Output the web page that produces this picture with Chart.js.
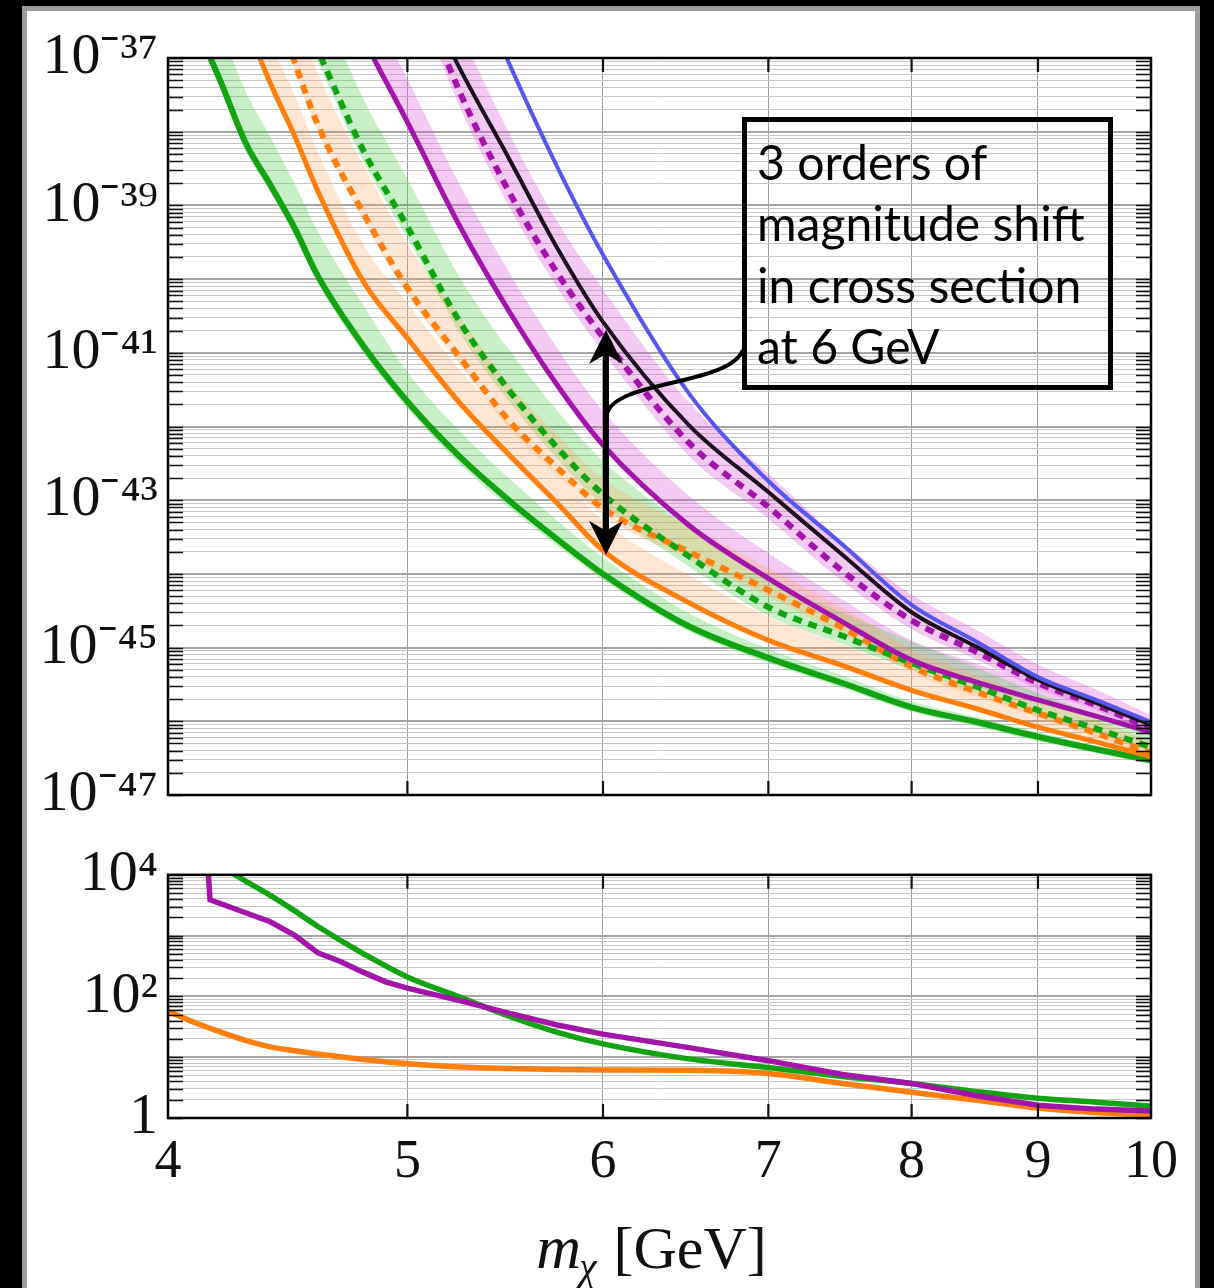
<!DOCTYPE html>
<html><head><meta charset="utf-8">
<script src="https://cdn.jsdelivr.net/npm/chart.js@4.4.1/dist/chart.umd.min.js"></script>
<style>
html,body{margin:0;padding:0;background:#000;width:1214px;height:1288px;overflow:hidden;}
#frame{position:absolute;left:22px;top:6px;width:1178px;height:1300px;box-sizing:border-box;border:5px solid #9c9c9c;background:#fff;}
#top{position:absolute;left:0;top:0;}
#bot{position:absolute;left:0;top:830px;}
</style></head><body>
<div id="frame"></div>
<canvas id="top" width="1214" height="850"></canvas>
<canvas id="bot" width="1214" height="458"></canvas>
<script>
// ---------- data (log10 of cross section) ----------
const topMass = [4.1,4.2,4.3,4.4,4.5,4.6,4.8,5.0,5.25,5.5,5.75,6.0,6.5,7.0,7.5,8.0,8.5,9.0,9.5,10];

const greenSolid   = [-36.51,-37.31,-38.15,-38.72,-39.30,-39.96,-40.91,-41.66,-42.41,-43.01,-43.53,-44.00,-44.71,-45.14,-45.48,-45.81,-46.01,-46.21,-46.38,-46.53];
const greenSolidHi = [-35.81,-36.61,-37.45,-38.07,-38.70,-39.36,-40.36,-41.26,-42.06,-42.71,-43.28,-43.78,-44.53,-45.02,-45.38,-45.73,-45.94,-46.15,-46.33,-46.48];
const greenSolidLo = [-36.61,-37.41,-38.25,-38.82,-39.40,-40.06,-41.01,-41.76,-42.51,-43.11,-43.62,-44.08,-44.78,-45.21,-45.55,-45.87,-46.07,-46.27,-46.43,-46.58];

const orangeSolid   = [null,null,-36.53,-37.34,-38.05,-38.81,-40.04,-40.80,-41.68,-42.39,-43.04,-43.68,-44.39,-44.90,-45.24,-45.58,-45.83,-46.08,-46.28,-46.48];
const orangeSolidHi = [null,null,-35.98,-36.79,-37.50,-38.28,-39.54,-40.33,-41.23,-41.96,-42.63,-43.28,-44.02,-44.58,-44.96,-45.33,-45.62,-45.90,-46.13,-46.36];
const orangeSolidLo = [null,null,-36.60,-37.41,-38.12,-38.88,-40.11,-40.87,-41.75,-42.46,-43.10,-43.74,-44.44,-44.95,-45.29,-45.62,-45.87,-46.11,-46.31,-46.51];

const orangeDashed   = [null,null,null,-36.14,-37.05,-37.91,-39.11,-40.12,-41.06,-41.93,-42.56,-43.11,-43.70,-44.22,-44.73,-45.26,-45.60,-45.89,-46.16,-46.43];
const orangeDashedHi = [null,null,null,-35.44,-36.35,-37.21,-38.46,-39.52,-40.51,-41.43,-42.11,-42.71,-43.35,-43.92,-44.46,-45.02,-45.38,-45.69,-45.98,-46.27];
const orangeDashedLo = [null,null,null,-36.24,-37.15,-38.01,-39.21,-40.22,-41.16,-42.03,-42.66,-43.21,-43.80,-44.31,-44.82,-45.34,-45.67,-45.95,-46.21,-46.48];

const greenDashed   = [null,null,null,null,-36.19,-36.90,-38.26,-39.29,-40.58,-41.52,-42.29,-42.92,-43.76,-44.45,-44.84,-45.21,-45.53,-45.85,-46.10,-46.35];
const greenDashedHi = [null,null,null,null,-35.44,-36.15,-37.56,-38.64,-39.98,-40.97,-41.79,-42.47,-43.36,-44.10,-44.52,-44.92,-45.27,-45.62,-45.90,-46.17];
const greenDashedLo = [null,null,null,null,-36.34,-37.05,-38.41,-39.44,-40.73,-41.67,-42.44,-43.07,-43.90,-44.57,-44.95,-45.31,-45.62,-45.92,-46.16,-46.41];

const magentaSolid   = [null,null,null,null,null,-35.36,-36.73,-37.87,-39.28,-40.45,-41.44,-42.25,-43.34,-44.06,-44.65,-45.17,-45.47,-45.71,-45.93,-46.15];
const magentaSolidHi = [null,null,null,null,null,-34.76,-36.13,-37.29,-38.72,-39.92,-40.94,-41.79,-42.94,-43.72,-44.35,-44.90,-45.22,-45.49,-45.74,-45.98];
const magentaSolidLo = [null,null,null,null,null,-35.41,-36.78,-37.92,-39.33,-40.50,-41.49,-42.30,-43.39,-44.11,-44.70,-45.22,-45.52,-45.76,-45.97,-46.19];

const magentaDashed   = [null,null,null,null,null,null,null,-35.67,-37.46,-38.83,-39.92,-40.79,-42.22,-43.09,-43.96,-44.63,-45.06,-45.48,-45.78,-46.10];
const magentaDashedHi = [null,null,null,null,null,null,null,-34.82,-36.61,-38.03,-39.22,-40.14,-41.67,-42.64,-43.56,-44.28,-44.76,-45.23,-45.57,-45.92];
const magentaDashedLo = [null,null,null,null,null,null,null,-35.87,-37.66,-39.03,-40.12,-40.99,-42.40,-43.25,-44.10,-44.75,-45.16,-45.56,-45.85,-46.15];

const blackLine = [null,null,null,null,null,null,null,-35.70,-37.14,-38.38,-39.58,-40.58,-41.98,-42.89,-43.74,-44.52,-44.99,-45.44,-45.75,-46.05];
const blueLine  = [null,null,null,null,null,null,null,null,-35.53,-37.09,-38.48,-39.67,-41.55,-42.74,-43.60,-44.42,-44.92,-45.40,-45.71,-46.01];

// bottom panel (log10 of ratio)
const botMagentaMass = [4.15,4.16,4.3,4.4,4.5,4.6,4.7,4.8,4.9,5.0,5.25,5.5,5.75,6.0,6.5,7.0,7.5,8.0,8.5,9.0,9.5,10];
const botMagenta     = [4.2,3.59,3.376,3.228,3.008,2.715,2.57,2.395,2.24,2.135,1.93,1.72,1.53,1.38,1.158,0.943,0.715,0.569,0.367,0.211,0.146,0.114];
const botGreenMass   = [4.2,4.3,4.4,4.5,4.6,4.8,5.0,5.25,5.5,5.75,6.0,6.5,7.0,7.5,8.0,8.5,9.0,9.5,10];
const botGreen       = [4.15,3.896,3.66,3.41,3.15,2.70,2.32,1.99,1.67,1.41,1.22,0.972,0.829,0.683,0.569,0.434,0.325,0.26,0.195];
const botOrangeMass  = [4.0,4.1,4.2,4.3,4.4,4.5,4.6,4.8,5.0,5.25,5.5,5.75,6.0,6.5,7.0,7.5,8.0,8.5,9.0,9.5,10];
const botOrange      = [1.756,1.57,1.415,1.276,1.17,1.106,1.054,0.963,0.894,0.84,0.813,0.797,0.789,0.784,0.732,0.569,0.423,0.293,0.163,0.089,0.049];

// axes / labels
const massTicks = [4,5,6,7,8,9,10];
const xTickLabels = ['4','5','6','7','8','9','10'];
const topLabelExps = [-37,-39,-41,-43,-45,-47];
const botLabelExps = [4,2,0];
const noteLines = ['3 orders of','magnitude shift','in cross section','at 6 GeV'];
const arrowMass = 6, arrowUpperExp = -40.69, arrowLowerExp = -43.74;

// ---------- helpers ----------
const SUP = {'-':'\u207B','0':'\u2070','1':'\u00B9','2':'\u00B2','3':'\u00B3','4':'\u2074','5':'\u2075','6':'\u2076','7':'\u2077','8':'\u2078','9':'\u2079'};
function powLabel(e){ return e===0 ? '1' : '10' + String(e).split('').map(c=>SUP[c]).join(''); }
function isDecade(v){ const l=Math.log10(v); return Math.abs(l-Math.round(l))<1e-6; }
function logTicks(eMin,eMax){ const t=[]; for(let e=eMin;e<eMax;e++){ for(let k=1;k<10;k++) t.push({value:k*Math.pow(10,e)}); } t.push({value:Math.pow(10,eMax)}); return t; }
function pts(ms, ls){ return ms.map((m,i)=>({x:m, y: ls[i]==null?null:Math.pow(10,ls[i])})); }

const C = {green:'#12a312', orange:'#ff7f0e', purple:'#a315a8', black:'#1c0f1e', blue:'#5656ee',
  gBand:'rgba(70,205,70,0.30)', oBand:'rgba(255,165,95,0.28)', mBand:'rgba(222,95,222,0.33)'};

function line(label, ms, ls, color, width, dash, order, straight){
  const d = {label, data: pts(ms, ls), borderColor: color, borderWidth: width, borderDash: dash||[], borderCapStyle:'butt',
    pointRadius:0, fill:false, order, clip:0};
  if (straight) d.tension = 0; else d.cubicInterpolationMode = 'monotone';
  return d;
}
function band(label, hi, lo, color){
  return [
    {label: label+' upper', data: pts(topMass, hi), borderWidth:0, borderColor:'rgba(0,0,0,0)', backgroundColor: color,
     fill:'+1', pointRadius:0, order:50, cubicInterpolationMode:'monotone', clip:0},
    {label: label+' lower', data: pts(topMass, lo), borderWidth:0, borderColor:'rgba(0,0,0,0)', backgroundColor:'rgba(0,0,0,0)',
     fill:false, pointRadius:0, order:50, cubicInterpolationMode:'monotone', clip:0}
  ];
}

const frameTicks = {
  id:'frameTicks',
  afterDraw(chart){
    const {ctx, chartArea:a, scales:{x,y}} = chart;
    ctx.save();
    ctx.strokeStyle='#111'; ctx.lineWidth=1.6;
    ctx.beginPath();
    y.ticks.forEach(t=>{
      const py = Math.round(y.getPixelForValue(t.value))+0.5;
      if (py < a.top-1 || py > a.bottom+1) return;
      ctx.moveTo(a.left, py); ctx.lineTo(a.left+15, py);
      ctx.moveTo(a.right, py); ctx.lineTo(a.right-15, py);
    });
    ctx.stroke();
    ctx.lineWidth=2.2; ctx.beginPath();
    x.ticks.forEach(t=>{
      const px = x.getPixelForValue(t.value);
      if (px < a.left+2 || px > a.right-2) return;
      ctx.moveTo(px, a.bottom); ctx.lineTo(px, a.bottom-14);
      ctx.moveTo(px, a.top); ctx.lineTo(px, a.top+14);
    });
    ctx.stroke();
    ctx.lineWidth=2.5; ctx.strokeStyle='#000';
    ctx.strokeRect(a.left, a.top, a.right-a.left, a.bottom-a.top);
    ctx.restore();
  }
};

const annotation = {
  id:'annotation',
  afterDraw(chart){
    const {ctx, scales:{x,y}} = chart;
    ctx.save();
    ctx.fillStyle='#000'; ctx.strokeStyle='#000';
    const ax = x.getPixelForValue(arrowMass) + 3;
    const y1 = y.getPixelForValue(Math.pow(10,arrowUpperExp));
    const y2 = y.getPixelForValue(Math.pow(10,arrowLowerExp));
    ctx.lineWidth=6; ctx.beginPath(); ctx.moveTo(ax, y1+22); ctx.lineTo(ax, y2-22); ctx.stroke();
    const head=(tip,dir)=>{ ctx.beginPath(); ctx.moveTo(ax,tip); ctx.lineTo(ax+17,tip+dir*34); ctx.lineTo(ax,tip+dir*24); ctx.lineTo(ax-17,tip+dir*34); ctx.closePath(); ctx.fill(); };
    head(y1,1); head(y2,-1);
    // connector to box
    ctx.lineWidth=4; ctx.beginPath(); ctx.moveTo(ax+1, 414); ctx.bezierCurveTo(ax+9, 380, 728, 386, 743, 350); ctx.stroke();
    // box
    ctx.lineWidth=5; ctx.strokeRect(744.5, 119.5, 366, 268);
    // text
    let fs = 48; ctx.font = fs+'px Lato';
    const w = ctx.measureText(noteLines[1]).width; fs = fs*328/w; ctx.font = fs.toFixed(1)+'px Lato';
    ctx.textBaseline='alphabetic'; ctx.textAlign='left';
    const base=[180,241,303,364];
    noteLines.forEach((s,i)=>ctx.fillText(s, 757, base[i]));
    ctx.restore();
  }
};

const axisTitle = {
  id:'axisTitle',
  afterDraw(chart){
    const ctx = chart.ctx; const a = chart.chartArea;
    ctx.save(); ctx.fillStyle='#111'; ctx.textBaseline='alphabetic'; ctx.textAlign='left';
    const fM='italic 62px "Liberation Serif"', fC='italic 40px "Liberation Serif"', fG='60px "Liberation Serif"';
    ctx.font=fM; const wm=ctx.measureText('m').width;
    ctx.font=fC; const wc=ctx.measureText('\u03C7').width;
    ctx.font=fG; const wg=ctx.measureText(' [GeV]').width;
    const total = wm+wc+wg; let x0 = (a.left+a.right)/2 - 8 - total/2; const base = 438;
    ctx.font=fM; ctx.fillText('m', x0, base); x0+=wm;
    ctx.font=fC; ctx.fillText('\u03C7', x0-2, base+12); x0+=wc;
    ctx.font=fG; ctx.fillText(' [GeV]', x0, base);
    ctx.restore();
  }
};

function yScale(min, max, eMin, eMax, labelExps){
  return {
    type:'logarithmic', min, max, position:'left',
    afterBuildTicks: s => { s.ticks = logTicks(eMin, eMax); },
    afterFit: s => { s.width = 168; },
    border:{display:false},
    grid:{ drawTicks:false, color: c => (c.tick && isDecade(c.tick.value)) ? '#a4a4a4' : '#c6c6c6',
           lineWidth: c => (c.tick && isDecade(c.tick.value)) ? 2 : 1 },
    ticks:{ autoSkip:false, padding:10, color:'#111', font:{family:'"Liberation Serif"', size:58},
      callback: v => { if(!isDecade(v)) return ''; const e=Math.round(Math.log10(v)); return labelExps.includes(e) ? powLabel(e) : ''; } }
  };
}
function xScale(showLabels){
  return {
    type:'logarithmic', min:4, max:10, position:'bottom',
    afterBuildTicks: s => { s.ticks = massTicks.map(v=>({value:v})); },
    afterFit: s => { s.height = showLabels ? 170 : 0; },
    border:{display:false},
    grid:{ drawTicks:false, color:'#9c9c9c', lineWidth:1 },
    ticks:{ display: showLabels, autoSkip:false, maxRotation:0, padding:12, color:'#111',
      font:{family:'"Liberation Serif"', size:54}, callback:(v,i)=>xTickLabels[i] }
  };
}

const topDatasets = [
  ...band('green solid band', greenSolidHi, greenSolidLo, C.gBand),
  ...band('orange solid band', orangeSolidHi, orangeSolidLo, C.oBand),
  ...band('orange dashed band', orangeDashedHi, orangeDashedLo, C.oBand),
  ...band('green dashed band', greenDashedHi, greenDashedLo, C.gBand),
  ...band('magenta solid band', magentaSolidHi, magentaSolidLo, C.mBand),
  ...band('magenta dashed band', magentaDashedHi, magentaDashedLo, C.mBand),
  line('green solid', topMass, greenSolid, C.green, 6, null, 8),
  line('orange solid', topMass, orangeSolid, C.orange, 5, null, 7),
  line('orange dashed', topMass, orangeDashed, C.orange, 6, [9,7], 6),
  line('green dashed', topMass, greenDashed, C.green, 6, [9,7], 5),
  line('magenta solid', topMass, magentaSolid, C.purple, 5, null, 4),
  line('magenta dashed', topMass, magentaDashed, C.purple, 6, [9,7], 3),
  line('black', topMass, blackLine, C.black, 4, null, 2),
  line('blue', topMass, blueLine, C.blue, 4, null, 1)
];

new Chart(document.getElementById('top'), {
  type:'line',
  data:{ datasets: topDatasets },
  options:{
    responsive:false, animation:false, devicePixelRatio:1,
    layout:{ padding:{left:0, right:63, top:58, bottom:55} },
    plugins:{ legend:{display:false}, tooltip:{enabled:false} },
    scales:{ x: xScale(false), y: yScale(1e-47, 1e-37, -47, -37, topLabelExps) }
  },
  plugins:[frameTicks, annotation]
});

new Chart(document.getElementById('bot'), {
  type:'line',
  data:{ datasets:[
    line('orange ratio', botOrangeMass, botOrange, C.orange, 5.5, null, 3),
    line('green ratio', botGreenMass, botGreen, C.green, 5.5, null, 2),
    line('magenta ratio', botMagentaMass, botMagenta, C.purple, 5.5, null, 1, true)
  ]},
  options:{
    responsive:false, animation:false, devicePixelRatio:1,
    layout:{ padding:{left:0, right:63, top:42, bottom:0} },
    plugins:{ legend:{display:false}, tooltip:{enabled:false} },
    scales:{ x: xScale(true), y: yScale(1, 1e4, 0, 4, botLabelExps) }
  },
  plugins:[frameTicks, axisTitle]
});
</script></body></html>
